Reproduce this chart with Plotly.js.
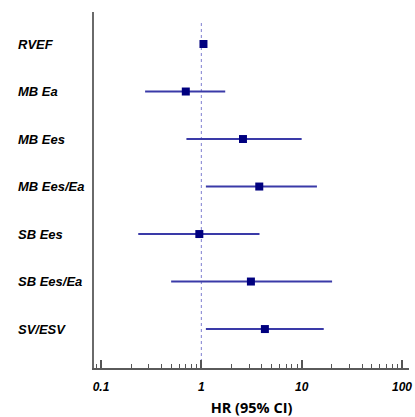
<!DOCTYPE html>
<html>
<head>
<meta charset="utf-8">
<script src="https://cdn.plot.ly/plotly-3.0.1.min.js"></script>
<style>html,body{margin:0;padding:0;background:#fff;}#chart{width:415px;height:417px;}</style>
</head>
<body>
<div id="chart"></div>
<script>
const categories = ["RVEF", "MB Ea", "MB Ees", "MB Ees/Ea", "SB Ees", "SB Ees/Ea", "SV/ESV"];
const hr = [1.05, 0.70, 2.6, 3.78, 0.955, 3.12, 4.3];
const ciLow = [1.02, 0.275, 0.71, 1.11, 0.235, 0.50, 1.11];
const ciHigh = [1.08, 1.73, 10.0, 14.2, 3.8, 20.1, 16.6];
const xTickVals = [0.1, 1, 10, 100];
const xTickText = ["0.1", "1", "10", "100"];

const trace = {
  type: 'scatter',
  mode: 'markers',
  x: hr,
  y: categories,
  marker: {symbol: 'square', size: 8, color: '#00007f'},
  error_x: {
    type: 'data',
    symmetric: false,
    array: hr.map((v, i) => ciHigh[i] - v),
    arrayminus: hr.map((v, i) => v - ciLow[i]),
    width: 0,
    thickness: 2,
    color: '#3a3aa8'
  },
  hoverinfo: 'skip',
  showlegend: false
};

const annotations = categories.map(c => ({
  text: c,
  xref: 'paper', x: (16 - 94) / 315, xanchor: 'left',
  yref: 'y', y: c, yanchor: 'middle',
  showarrow: false,
  font: {family: 'Liberation Sans, Arial, sans-serif', size: 13, color: '#000', weight: 'bold', style: 'italic'}
}));

const layout = {
  width: 415, height: 417,
  margin: {l: 94, r: 6, t: 12, b: 49},
  paper_bgcolor: '#fff', plot_bgcolor: '#fff',
  xaxis: {
    type: 'log',
    range: [-1.07, 2.07],
    tickvals: xTickVals,
    ticktext: xTickText,
    ticks: 'inside', ticklen: 8, tickwidth: 2, tickcolor: '#555',
    minor: {ticks: 'inside', ticklen: 4, tickwidth: 1, tickcolor: '#555', dtick: 'D1', showgrid: false},
    showgrid: false, zeroline: false,
    showline: true, linecolor: '#5a5a5a', linewidth: 2,
    tickfont: {family: 'Liberation Sans, Arial, sans-serif', size: 12, color: '#000', weight: 'bold', style: 'italic'},
    ticklabelstandoff: 7,
    title: {text: 'HR (95% CI)', font: {family: 'Open Sans, sans-serif', size: 14.5, color: '#000', weight: 'bold'}, standoff: 9}
  },
  yaxis: {
    type: 'category',
    categoryorder: 'array', categoryarray: categories,
    range: [6.82, -0.674],
    showticklabels: false, ticks: '',
    showgrid: false, zeroline: false,
    showline: true, linecolor: '#6a6a6a', linewidth: 2
  },
  shapes: [{
    type: 'line', xref: 'x', x0: 1, x1: 1, yref: 'paper', y0: 0, y1: 0.972,
    line: {color: '#7f7fd0', width: 1, dash: 'dot'},
    layer: 'below'
  }],
  annotations: annotations
};

Plotly.newPlot('chart', [trace], layout, {staticPlot: true, displayModeBar: false});
</script>
</body>
</html>
